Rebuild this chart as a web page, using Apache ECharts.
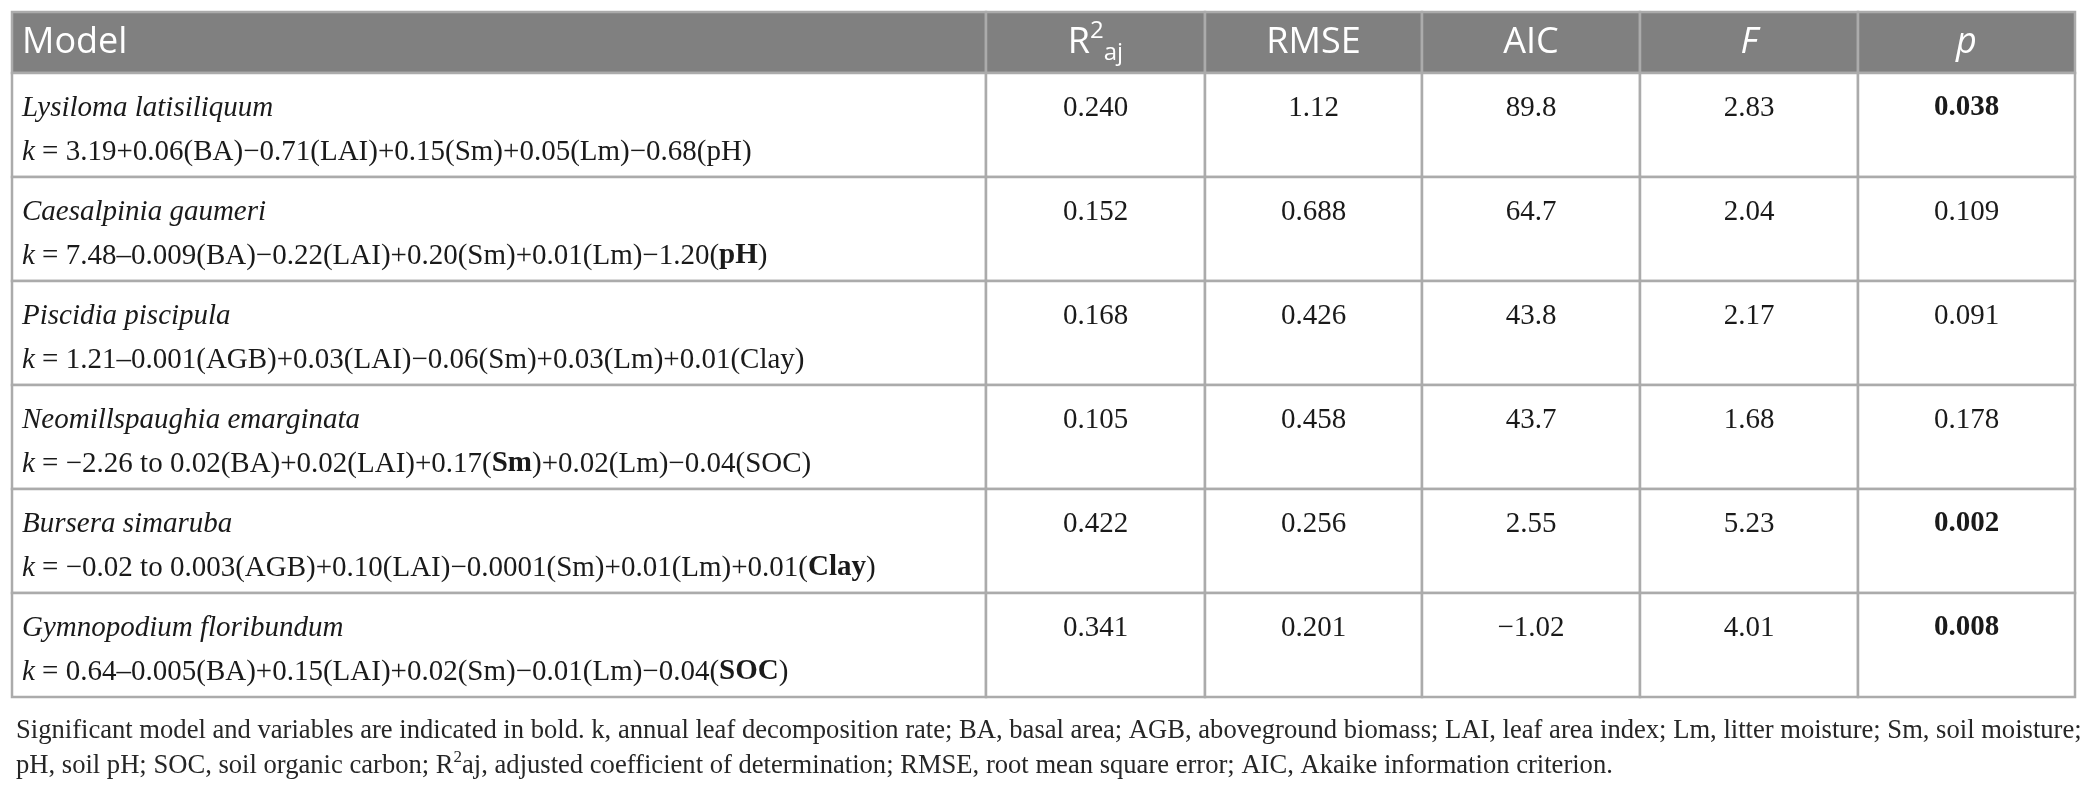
<!DOCTYPE html>
<html>
<head>
<meta charset="utf-8">
<script src="https://cdn.jsdelivr.net/npm/echarts@6/dist/echarts.min.js"></script>
<style>
html, body { margin: 0; padding: 0; background: #fff; }
#tableChart { width: 2089px; height: 794px; }
</style>
</head>
<body>
<div id="tableChart"></div>
<script>
// table content
var headers = ['Model', 'R{sup|2}{sub|aj}', 'RMSE', 'AIC', '{i|F}', '{i|p}'];
var species = [
    'Lysiloma latisiliquum',
    'Caesalpinia gaumeri',
    'Piscidia piscipula',
    'Neomillspaughia emarginata',
    'Bursera simaruba',
    'Gymnopodium floribundum'
];
var models = [
    '{i|k} = 3.19+0.06(BA)\u22120.71(LAI)+0.15(Sm)+0.05(Lm)\u22120.68(pH)',
    '{i|k} = 7.48\u20130.009(BA)\u22120.22(LAI)+0.20(Sm)+0.01(Lm)\u22121.20({b|pH})',
    '{i|k} = 1.21\u20130.001(AGB)+0.03(LAI)\u22120.06(Sm)+0.03(Lm)+0.01(Clay)',
    '{i|k} = \u22122.26 to 0.02(BA)+0.02(LAI)+0.17({b|Sm})+0.02(Lm)\u22120.04(SOC)',
    '{i|k} = \u22120.02 to 0.003(AGB)+0.10(LAI)\u22120.0001(Sm)+0.01(Lm)+0.01({b|Clay})',
    '{i|k} = 0.64\u20130.005(BA)+0.15(LAI)+0.02(Sm)\u22120.01(Lm)\u22120.04({b|SOC})'
];
var r2aj = ['0.240', '0.152', '0.168', '0.105', '0.422', '0.341'];
var rmse = ['1.12', '0.688', '0.426', '0.458', '0.256', '0.201'];
var aic = ['89.8', '64.7', '43.8', '43.7', '2.55', '\u22121.02'];
var fValues = ['2.83', '2.04', '2.17', '1.68', '5.23', '4.01'];
var pValues = ['0.038', '0.109', '0.091', '0.178', '0.002', '0.008'];
var significant = [true, false, false, false, true, true];
var footnote = 'Significant model and variables are indicated in bold. k, annual leaf decomposition rate; BA, basal area; AGB, aboveground biomass; LAI, leaf area index; Lm, litter moisture; Sm, soil moisture;\n'
    + 'pH, soil pH; SOC, soil organic carbon; R{sup|2}aj, adjusted coefficient of determination; RMSE, root mean square error; AIC, Akaike information criterion.';

// layout: relative column widths and header height (in body-row units)
var colWeights = [974, 219, 217, 218, 218, 217];
var headerWeight = 61 / 104;
var colEdges = [0];
colWeights.forEach(function (w) { colEdges.push(colEdges[colEdges.length - 1] + w); });

var serif = 'Liberation Serif';
var sans = 'Open Sans';
var lineColor = '#ababab';
var ink = '#1a1a1a';
var bodySize = 29;

function rowTop(r) { return r === 0 ? 0 : headerWeight + r - 1; }
function rowBottom(r) { return headerWeight + r; }

function bodyText(c, i) {
    if (c === 0) return '{sp|' + species[i] + '}\n' + models[i];
    var cols = [null, r2aj, rmse, aic, fValues, pValues];
    var v = cols[c][i];
    if (c === 5 && significant[i]) return '{b|' + v + '}';
    return v;
}

var cells = [];
for (var r = 0; r <= species.length; r++) {
    for (var c = 0; c < headers.length; c++) {
        cells.push([c, r]);
    }
}

function renderCell(params, api) {
    var c = api.value(0);
    var r = api.value(1);
    var p0 = api.coord([colEdges[c], rowTop(r)]);
    var p1 = api.coord([colEdges[c + 1], rowBottom(r)]);
    var x = p0[0], y = p0[1], w = p1[0] - p0[0], h = p1[1] - p0[1];
    var isHead = r === 0;
    var text;
    if (isHead) {
        text = {
            type: 'text',
            style: {
                text: headers[c],
                x: c === 0 ? x + 10 : x + w / 2,
                y: y + h / 2,
                align: c === 0 ? 'left' : 'center',
                verticalAlign: 'middle',
                fill: '#fff',
                fontFamily: sans,
                fontSize: 36,
                lineHeight: 46,
                rich: {
                    sup: { fontFamily: sans, fontSize: 24, lineHeight: 24, verticalAlign: 'top', fill: '#fff' },
                    sub: { fontFamily: sans, fontSize: 24, lineHeight: 24, verticalAlign: 'bottom', fill: '#fff' },
                    i: { fontFamily: sans, fontSize: 36, lineHeight: 46, fontStyle: 'italic', fill: '#fff' }
                }
            }
        };
    } else {
        text = {
            type: 'text',
            style: {
                text: bodyText(c, r - 1),
                x: c === 0 ? x + 10 : x + w / 2,
                y: y + 13,
                align: c === 0 ? 'left' : 'center',
                verticalAlign: 'top',
                fill: ink,
                fontFamily: serif,
                fontSize: bodySize,
                lineHeight: 44,
                rich: {
                    sp: { fontFamily: serif, fontSize: bodySize, lineHeight: 44, fontStyle: 'italic', fill: ink },
                    i: { fontFamily: serif, fontSize: bodySize, lineHeight: 44, fontStyle: 'italic', fill: ink },
                    b: { fontFamily: serif, fontSize: bodySize, lineHeight: 44, fontWeight: 'bold', fill: ink }
                }
            }
        };
    }
    return {
        type: 'group',
        children: [{
            type: 'rect',
            shape: { x: x, y: y, width: w, height: h },
            style: { fill: isHead ? '#808080' : '#fff', stroke: lineColor, lineWidth: 2.5 }
        }, text]
    };
}

var option = {
    animation: false,
    title: {
        text: footnote,
        left: 11,
        top: 709,
        textStyle: {
            fontFamily: serif,
            fontSize: 26.6,
            fontWeight: 'normal',
            color: '#262626',
            lineHeight: 35,
            rich: {
                sup: { fontFamily: serif, fontSize: 17, lineHeight: 20, verticalAlign: 'top', color: '#262626' }
            }
        }
    },
    grid: { left: 12, right: 14, top: 12, bottom: 97 },
    xAxis: { type: 'value', min: 0, max: colEdges[colEdges.length - 1], show: false },
    yAxis: { type: 'value', min: 0, max: headerWeight + species.length, inverse: true, show: false },
    series: [{
        type: 'custom',
        renderItem: renderCell,
        data: cells,
        clip: false
    }]
};

var chart = echarts.init(document.getElementById('tableChart'));
chart.setOption(option);
</script>
</body>
</html>
